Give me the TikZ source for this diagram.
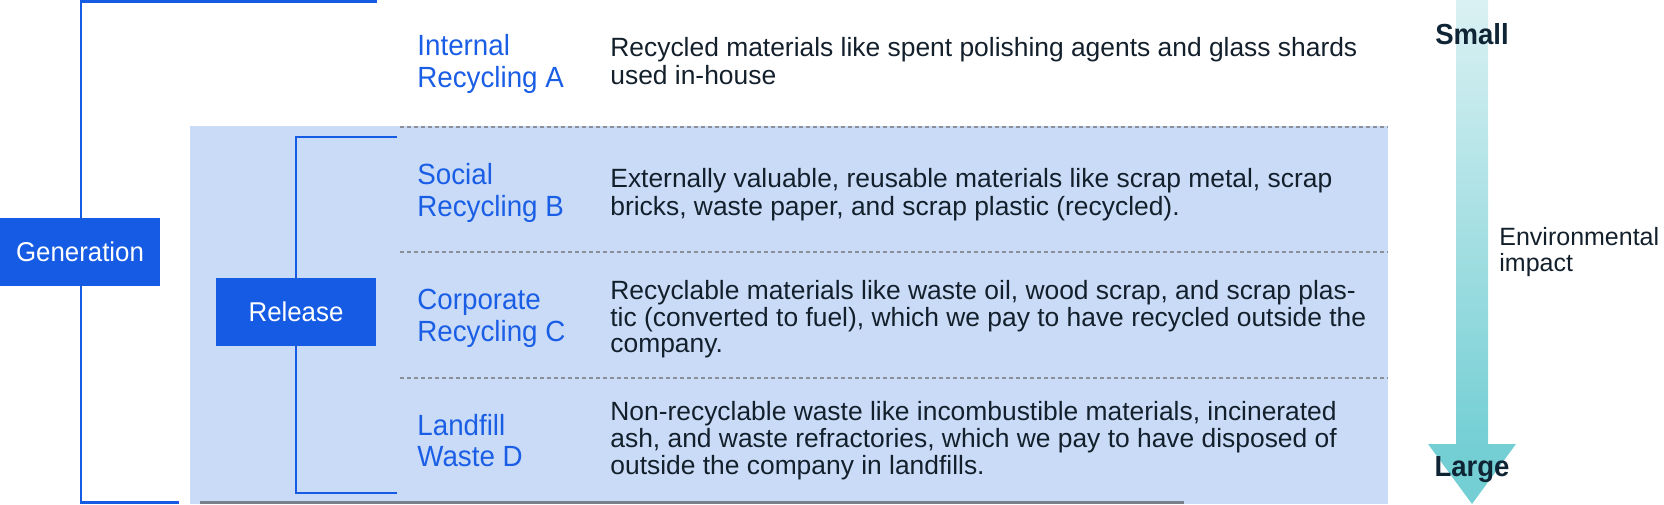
\documentclass[tikz,border=0pt]{standalone}
\usepackage{fontspec}
\setmainfont{Liberation Sans}
\newfontfamily\narrowfont[FakeStretch=0.95]{Liberation Sans}
\definecolor{boxblue}{HTML}{155BE4}
\definecolor{regionblue}{HTML}{C9DBF7}
\definecolor{labelblue}{HTML}{1A5EE6}
\definecolor{darktext}{HTML}{13202C}
\definecolor{navy}{HTML}{0F2535}
\definecolor{dashgray}{HTML}{8A8F99}
\definecolor{bottomgray}{HTML}{7A808A}
\definecolor{arrowtop}{HTML}{DAF1F3}
\definecolor{arrowbot}{HTML}{74CFD4}
\begin{document}
\begin{tikzpicture}[x=0.5pt,y=-0.5pt,
  bluebox/.style={fill=boxblue, text=white, minimum width=80pt, minimum height=34pt, inner sep=0pt, font=\narrowfont\fontsize{13.6}{16}\selectfont},
  bracket/.style={draw=boxblue, line width=1.25pt},
  sep/.style={draw=dashgray, line width=1pt, dash pattern=on 2pt off 1.5pt},
  lbl/.style={anchor=base west, inner sep=0pt, text=labelblue, font=\narrowfont\fontsize{14.6}{18}\selectfont},
  desc/.style={anchor=base west, inner sep=0pt, text=darktext, font=\fontsize{13.2}{15}\selectfont},
  scale label/.style={anchor=base, inner sep=0pt, text=navy, font=\narrowfont\fontsize{14.5}{18}\selectfont\bfseries},
  side/.style={anchor=base west, inner sep=0pt, text=darktext, font=\fontsize{12.5}{15}\selectfont}]
\useasboundingbox (0,0) rectangle (1664,504);
% release region
\fill[regionblue] (190,126) rectangle (1388,504);
\draw[bottomgray, line width=1.5pt] (200,502.5) -- (1184,502.5);
% separators
\coordinate (s1a) at (400,126.5); \coordinate (s1b) at (1388,126.5);
\coordinate (s2a) at (400,252); \coordinate (s2b) at (1388,252);
\coordinate (s3a) at (400,378); \coordinate (s3b) at (1388,378);
\draw[sep] (s1a) -- (s1b);
\draw[sep] (s2a) -- (s2b);
\draw[sep] (s3a) -- (s3b);
% boxes
\node[bluebox] (gen) at (80,252) {Generation};
\node[bluebox] (rel) at (296,312) {Release};
% brackets
\coordinate (gt) at (81,1.25); \coordinate (gte) at (377,1.25);
\coordinate (gb) at (81,502.5); \coordinate (gbe) at (179,502.5);
\draw[bracket] (gen.north -| gt) -- (gt) -- (gte);
\draw[bracket] (gen.south -| gb) -- (gb) -- (gbe);
\coordinate (rt) at (296,137); \coordinate (rte) at (397,137);
\coordinate (rb) at (296,493); \coordinate (rbe) at (397,493);
\draw[bracket] (rel.north) -- (rt) -- (rte);
\draw[bracket] (rel.south) -- (rb) -- (rbe);
% labels
\node[lbl] (la1) at (417,55) {Internal};
\node[lbl] (la2) at (417,87) {Recycling A};
\node[lbl] (lb1) at (417,184.5) {Social};
\node[lbl] (lb2) at (417,216.5) {Recycling B};
\node[lbl] (lc1) at (417,309.5) {Corporate};
\node[lbl] (lc2) at (417,341) {Recycling C};
\node[lbl] (ld1) at (417,435) {Landfill};
\node[lbl] (ld2) at (417,466.5) {Waste D};
% descriptions
\node[desc] (da1) at (610,56.7) {Recycled materials like spent polishing agents and glass shards};
\node[desc] (da2) at (610,84) {used in-house};
\node[desc] (db1) at (610,187.5) {Externally valuable, reusable materials like scrap metal, scrap};
\node[desc] (db2) at (610,215) {bricks, waste paper, and scrap plastic (recycled).};
\node[desc] (dc1) at (610,299) {Recyclable materials like waste oil, wood scrap, and scrap plas-};
\node[desc] (dc2) at (610,326) {tic (converted to fuel), which we pay to have recycled outside the};
\node[desc] (dc3) at (610,352.5) {company.};
\node[desc] (dd1) at (610,420) {Non-recyclable waste like incombustible materials, incinerated};
\node[desc] (dd2) at (610,447) {ash, and waste refractories, which we pay to have disposed of};
\node[desc] (dd3) at (610,474) {outside the company in landfills.};
% impact arrow
\shade[top color=arrowtop, bottom color=arrowbot] (1456,0) rectangle (1488,445);
\fill[arrowbot] (1428,444) -- (1516,444) -- (1472,504) -- cycle;
\node[scale label] (small) at (1472,44) {Small};
\node[scale label] (large) at (1472,476) {Large};
\node[side] (env1) at (1499,245) {Environmental};
\node[side] (env2) at (1499,271.7) {impact};
\end{tikzpicture}
\end{document}
